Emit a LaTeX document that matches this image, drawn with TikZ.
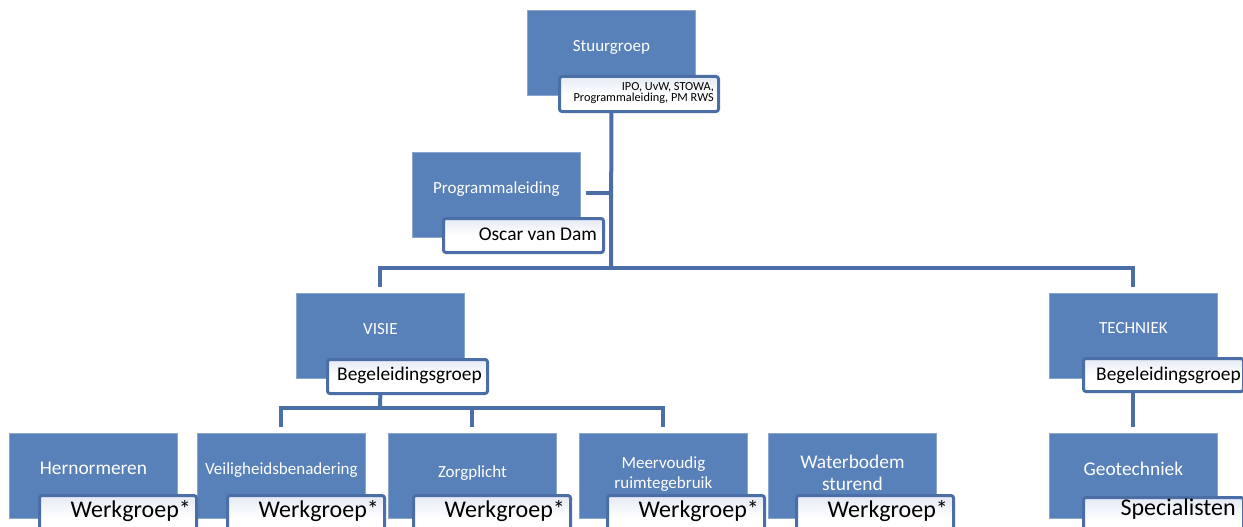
\documentclass[tikz,border=0pt]{standalone}
\usepackage{fontspec}
\setmainfont{Carlito}
\definecolor{boxblue}{RGB}{88,128,185}
\definecolor{linblue}{RGB}{74,110,165}
\definecolor{subtop}{RGB}{228,234,243}
\begin{document}
\begin{tikzpicture}[x=1pt,y=-1pt,
  mainbox/.style={rectangle,fill=boxblue,draw=boxblue!70!white,line width=0.8pt,minimum width=168pt,minimum height=85pt,anchor=north west,inner sep=0pt},
  subbox/.style={rectangle,rounded corners=2.5pt,draw=linblue,line width=3pt,top color=subtop,bottom color=white,middle color=white,anchor=north west,inner sep=0pt,minimum width=157pt,minimum height=45pt},
  wtxt/.style={text=white,anchor=base,inner sep=0pt,font=\fontsize{17}{20}\selectfont},
  wtxtL/.style={wtxt,font=\fontsize{19.4}{23}\selectfont},
  btxt/.style={text=black,anchor=base east,inner sep=0pt,font=\fontsize{19.4}{23}\selectfont},
  btxtL/.style={btxt,font=\fontsize{24}{28}\selectfont},
  stxt/.style={btxt,font=\fontsize{12.3}{13}\selectfont},
  conn/.style={draw=linblue,line width=4pt}]
\useasboundingbox (0,0) rectangle (1243,527);
\clip (0,0) rectangle (1243,527);
% main boxes
\node[mainbox] (stuur) at (527,10) {};
\node[mainbox] (prog) at (412,152) {};
\node[mainbox] (visie) at (296,293) {};
\node[mainbox] (tech) at (1049,293) {};
\node[mainbox] (hern) at (9,433) {};
\node[mainbox] (veil) at (197,433) {};
\node[mainbox] (zorg) at (388,433) {};
\node[mainbox] (meer) at (579,433) {};
\node[mainbox] (water) at (768,433) {};
\node[mainbox] (geo) at (1049,433) {};
% junctions
\coordinate (j1) at (611,268);
\coordinate (j2) at (380,408);
% connectors
\draw[conn] (stuur.south |- 0,110) -- (j1);
\draw[conn] ([xshift=5pt,yshift=1.5pt]prog.east) -- ([yshift=1.5pt]prog.east -| j1);
\draw[conn] ([yshift=6pt]visie.north) -- (visie.north |- j1) -- (tech.north |- j1) -- ([yshift=6pt]tech.north);
\draw[conn] (visie.south |- 0,392) -- (j2);
\draw[conn] ([yshift=6pt]veil.north) -- (veil.north |- j2) -- (meer.north |- j2) -- ([yshift=6pt]meer.north);
\draw[conn] (zorg.north |- j2) -- ([yshift=6pt]zorg.north);
\draw[conn] (tech.south |- 0,390) -- ([yshift=6pt]geo.north);
% main texts
\node[wtxt] (stuur-t) at ([yshift=-42pt]stuur.north) {Stuurgroep};
\node[wtxt] (prog-t) at ([yshift=-41pt]prog.north) {Programmaleiding};
\node[wtxt] (visie-t) at ([yshift=-41pt]visie.north) {VISIE};
\node[wtxt] (tech-t) at ([yshift=-40pt]tech.north) {TECHNIEK};
\node[wtxtL] (hern-t) at ([yshift=-41pt]hern.north) {Hernormeren};
\node[wtxt] (veil-t) at ([yshift=-41pt]veil.north) {Veiligheidsbenadering};
\node[wtxt] (zorg-t) at ([yshift=-44pt]zorg.north) {Zorgplicht};
\node[wtxt] (meer-t1) at ([yshift=-35pt]meer.north) {Meervoudig};
\node[wtxt] (meer-t2) at ([yshift=-55pt]meer.north) {ruimtegebruik};
\node[wtxtL] (water-t1) at ([yshift=-35pt]water.north) {Waterbodem};
\node[wtxtL] (water-t2) at ([yshift=-57pt]water.north) {sturend};
\node[wtxtL] (geo-t) at ([yshift=-42pt]geo.north) {Geotechniek};
% sub boxes
\node[subbox,minimum width=159pt,minimum height=35pt] (stuur-s) at (558,75) {};
\node[subbox,minimum width=160pt,minimum height=34pt] (prog-s) at (442,217) {};
\node[subbox,minimum width=160pt,minimum height=34pt] (visie-s) at (326,358) {};
\node[subbox,minimum width=160pt,minimum height=33pt] (tech-s) at (1082,357) {};
\node[subbox] (hern-s) at (38,494) {};
\node[subbox] (veil-s) at (226,494) {};
\node[subbox] (zorg-s) at (412,494) {};
\node[subbox] (meer-s) at (606,494) {};
\node[subbox] (water-s) at (795,494) {};
\node[subbox,minimum width=160pt] (geo-s) at (1082,496) {};
% sub texts
\node[stxt] (stuur-st1) at ([xshift=-6pt,yshift=-16pt]stuur-s.north east) {IPO, UvW, STOWA,};
\node[stxt] (stuur-st2) at ([xshift=-6pt,yshift=-27pt]stuur-s.north east) {Programmaleiding, PM RWS};
\node[btxt] (prog-st) at ([xshift=-8pt,yshift=-23pt]prog-s.north east) {Oscar van Dam};
\node[btxt] (visie-st) at ([xshift=-7pt,yshift=-22pt]visie-s.north east) {Begeleidingsgroep};
\node[btxt] (tech-st) at ([xshift=-4pt,yshift=-23pt]tech-s.north east) {Begeleidingsgroep};
\node[btxtL] (hern-st) at ([xshift=-7pt,yshift=-23pt]hern-s.north east) {Werkgroep*};
\node[btxtL] (veil-st) at ([xshift=-7pt,yshift=-23pt]veil-s.north east) {Werkgroep*};
\node[btxtL] (zorg-st) at ([xshift=-7pt,yshift=-23pt]zorg-s.north east) {Werkgroep*};
\node[btxtL] (meer-st) at ([xshift=-7pt,yshift=-23pt]meer-s.north east) {Werkgroep*};
\node[btxtL] (water-st) at ([xshift=-7pt,yshift=-23pt]water-s.north east) {Werkgroep*};
\node[btxtL] (geo-st) at ([xshift=-9pt,yshift=-19pt]geo-s.north east) {Specialisten};
\end{tikzpicture}
\end{document}
